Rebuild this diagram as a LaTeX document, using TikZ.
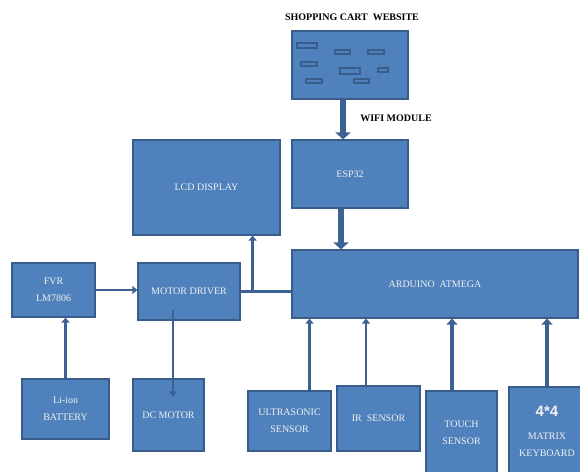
\documentclass[tikz,border=0pt]{standalone}
\usepackage{fontspec}
\setmainfont{Liberation Serif}
\newfontfamily\keyfont{Liberation Sans}
\usetikzlibrary{arrows.meta}
\definecolor{boxblue}{RGB}{79,129,189}
\definecolor{edgeblue}{RGB}{56,93,138}
\definecolor{wireblue}{RGB}{60,98,148}
\begin{document}
\begin{tikzpicture}
[x=1pt,y=-1pt,%
  blk/.style={draw=edgeblue,line width=1.2pt,fill=boxblue,text=white!94!black,
    align=center,inner sep=0pt,font=\fontsize{10}{17}\selectfont},%
  bar/.style={draw=edgeblue,line width=1.7pt,fill=boxblue},%
  wire/.style={wireblue,line width=2.8pt,-{Triangle[length=5pt,width=8pt]}},%
  widewire/.style={wireblue,line width=4.5pt,-{Triangle[length=6pt,width=11pt]}},%
  fatwire/.style={wireblue,line width=6pt,-{Triangle[length=7pt,width=15pt]}},%
  tag/.style={font=\bfseries\fontsize{10}{12}\selectfont}]
\clip (0,0) rectangle (580,471);
\fill[white] (0,0) rectangle (580,471);
\node[tag] (title) at (352,17) {SHOPPING CART\ \ WEBSITE};
\node[blk,minimum width=116pt,minimum height=68pt] (web) at (350,65) {};
\draw[bar] (297,43) rectangle (317,48);
\draw[bar] (335,50) rectangle (350,54);
\draw[bar] (368,50) rectangle (384,54);
\draw[bar] (301,62) rectangle (317,66);
\draw[bar] (340,68) rectangle (360,74);
\draw[bar] (378,68) rectangle (388,72);
\draw[bar] (306,79) rectangle (322,83);
\draw[bar] (354,79) rectangle (369,83);
\node[tag] (wifi) at (396,118) {WIFI MODULE};
\node[blk,minimum width=116pt,minimum height=68pt] (esp) at (350,174) {ESP32};
\node[blk,minimum width=286pt,minimum height=68pt] (ard) at (435,284) {ARDUINO\ \ ATMEGA};
\node[blk,minimum width=147pt,minimum height=95pt] (lcd) at (206.5,187.5) {LCD DISPLAY};
\node[blk,minimum width=102pt,minimum height=57pt] (drv) at (189,291.5) {MOTOR DRIVER};
\node[blk,minimum width=83pt,minimum height=54pt] (fvr) at (53.5,290) {FVR\\LM7806};
\node[blk,minimum width=87pt,minimum height=60pt] (bat) at (65.5,409)
  {\fontsize{10}{15}\selectfont Li-ion\\BATTERY};
\node[blk,minimum width=71pt,minimum height=72pt] (dcm) at (168.5,415) {DC MOTOR};
\node[blk,minimum width=83pt,minimum height=60pt] (ult) at (289.5,421)
  {\fontsize{10}{20}\selectfont ULTRASONIC\\SENSOR};
\node[blk,minimum width=83pt,minimum height=65pt] (irs) at (378.5,418.5) {IR\ \ SENSOR};
\node[blk,minimum width=71pt,minimum height=84pt] (tch) at (461.5,433) {TOUCH\\SENSOR};
\node[blk,minimum width=76pt,minimum height=88pt] (kbd) at (547,431)
  {{\keyfont\bfseries\fontsize{15}{17}\selectfont 4*4}\\[6pt]MATRIX\\KEYBOARD};
\draw[fatwire] ([xshift=-7pt]web.south) -- ([xshift=-7pt]esp.north);
\draw[fatwire] ([xshift=-9pt]esp.south) -- ([xshift=-9pt]esp.south |- ard.north);
\draw[wire] (fvr.east) -- (fvr.east -| drv.west);
\draw[wireblue,line width=2.8pt] (drv.east) -- (drv.east -| ard.west);
\coordinate (jn) at ([xshift=12pt]drv.east);
\draw[wire] (jn) -- (jn |- lcd.south);
\draw[wire] (bat.north) -- (bat.north |- fvr.south);
\draw[wire] ([xshift=-16pt,yshift=-18pt]drv.center) -- ([xshift=-16pt,yshift=-18pt]drv.center |- dcm.north);
\draw[wire] ([xshift=20pt]ult.north) -- ([xshift=20pt]ult.north |- ard.south);
\draw[wire] ([xshift=-12.5pt]irs.north) -- ([xshift=-12.5pt]irs.north |- ard.south);
\draw[widewire] ([xshift=-9.5pt]tch.north) -- ([xshift=-9.5pt]tch.north |- ard.south);
\draw[widewire] (kbd.north) -- (kbd.north |- ard.south);
\end{tikzpicture}
\end{document}
